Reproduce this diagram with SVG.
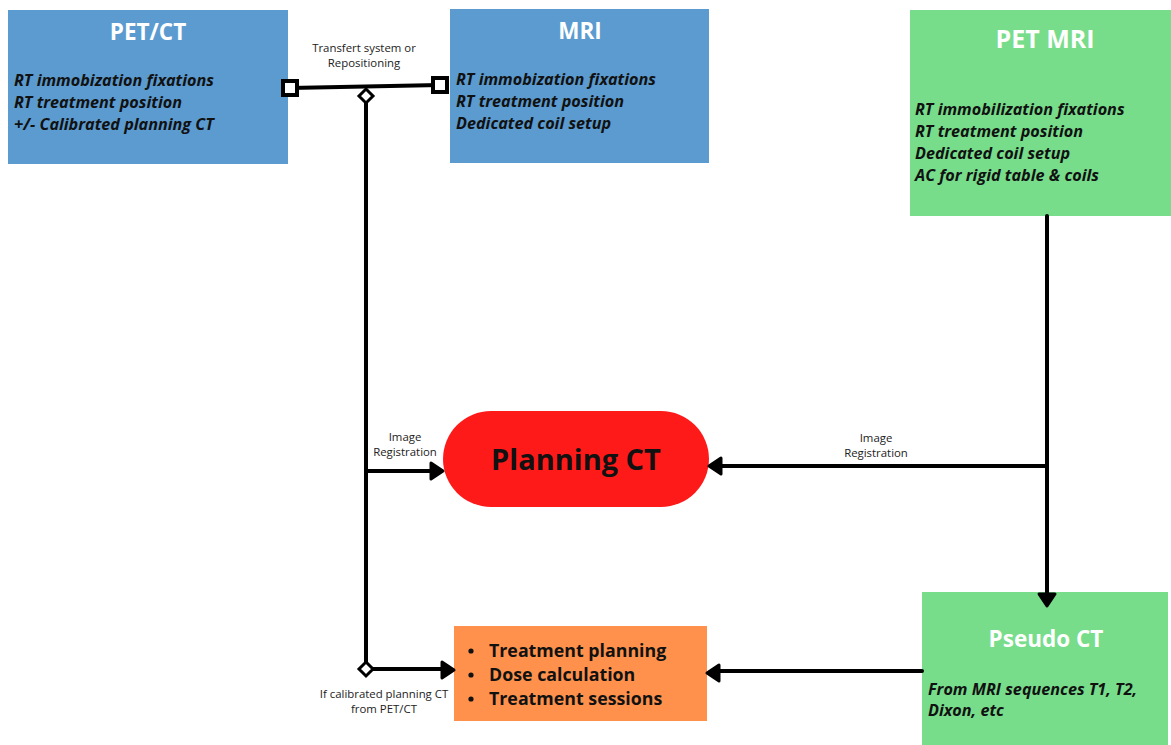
<svg xmlns="http://www.w3.org/2000/svg" width="1171" height="745" viewBox="0 0 1171 745">
<style>
.t{font-family:"Open Sans","Liberation Sans",sans-serif;}
.title{font-weight:700;fill:#fff;text-anchor:middle;}
.bi{font-weight:700;font-style:italic;fill:#111;font-size:16.2px;}
.lbl{font-size:11.4px;fill:#222;text-anchor:middle;}
.ln{stroke:#000;stroke-width:4;fill:none;stroke-linecap:round;stroke-linejoin:round;}
.ah{fill:#000;stroke:#000;stroke-width:3;stroke-linejoin:round;}
.sq{fill:#fff;stroke:#000;stroke-width:4;}
.dm{fill:#fff;stroke:#000;stroke-width:3;}
</style>
<rect width="1171" height="745" fill="#fff"/>
<g id="petct">
<rect x="8" y="10" width="280" height="154" fill="#5B9BD0"/>
<text class="t title" x="148" y="40" font-size="22.5">PET/CT</text>
<text class="t bi" x="14" y="86">RT immobization fixations</text>
<text class="t bi" x="14" y="108">RT treatment position</text>
<text class="t bi" x="14" y="130">+/- Calibrated planning CT</text>
</g>
<g id="mri">
<rect x="450" y="9" width="259" height="154" fill="#5B9BD0"/>
<text class="t title" x="580" y="39" font-size="22.5">MRI</text>
<text class="t bi" x="456" y="85">RT immobization fixations</text>
<text class="t bi" x="456" y="107">RT treatment position</text>
<text class="t bi" x="456" y="129">Dedicated coil setup</text>
</g>
<g id="petmri">
<rect x="910" y="10" width="261" height="206" fill="#77DD8B"/>
<text class="t title" x="1045" y="48" font-size="25">PET MRI</text>
<text class="t bi" x="915" y="115">RT immobilization fixations</text>
<text class="t bi" x="915" y="137">RT treatment position</text>
<text class="t bi" x="915" y="159">Dedicated coil setup</text>
<text class="t bi" x="915" y="181">AC for rigid table &amp; coils</text>
</g>
<g id="planningct">
<rect x="443" y="411" width="266" height="96" rx="48" fill="#FF1A1A"/>
<text class="t" x="576" y="470" font-size="29" font-weight="700" text-anchor="middle" fill="#111">Planning CT</text>
</g>
<g id="treatment">
<rect x="454" y="626" width="253" height="95" fill="#FF914D"/>
<circle cx="471" cy="651" r="2.6" fill="#111"/>
<circle cx="471" cy="675" r="2.6" fill="#111"/>
<circle cx="471" cy="699" r="2.6" fill="#111"/>
<text class="t" x="489" y="657" font-size="17.8" font-weight="700" fill="#111">Treatment planning</text>
<text class="t" x="489" y="681" font-size="17.8" font-weight="700" fill="#111">Dose calculation</text>
<text class="t" x="489" y="705" font-size="17.8" font-weight="700" fill="#111">Treatment sessions</text>
</g>
<g id="pseudoct">
<rect x="922" y="592" width="246" height="153" fill="#77DD8B"/>
<text class="t title" x="1046" y="647" font-size="22.5">Pseudo CT</text>
<text class="t bi" x="928" y="695">From MRI sequences T1, T2,</text>
<text class="t bi" x="928" y="716">Dixon, etc</text>
</g>
<g id="connectors">
<path class="ln" d="M290 88 L440 85"/>
<path class="ln" d="M366 96 V669"/>
<path class="ln" d="M366 471 H432"/>
<polygon class="ah" points="443,471 431,463 431,479"/>
<path class="ln" d="M366 669 H443"/>
<polygon class="ah" points="454,670 442,662 442,678"/>
<path class="ln" d="M1047 216 V594"/>
<polygon class="ah" points="1047,606 1039,594 1055,594"/>
<path class="ln" d="M1047 466 H720"/>
<polygon class="ah" points="709,466 721,458 721,474"/>
<path class="ln" d="M922 671 H718"/>
<polygon class="ah" points="707,673 719,665 719,681"/>
<rect class="sq" x="283" y="81" width="14" height="14"/>
<rect class="sq" x="433" y="78" width="14" height="14"/>
<polygon class="dm" points="366,89 373,96 366,103 359,96"/>
<polygon class="dm" points="366,662 373,669 366,676 359,669"/>
<text class="t lbl" x="364" y="52">Transfert system or</text>
<text class="t lbl" x="364" y="67">Repositioning</text>
<text class="t lbl" x="405" y="441">Image</text>
<text class="t lbl" x="405" y="456">Registration</text>
<text class="t lbl" x="876" y="442">Image</text>
<text class="t lbl" x="876" y="457">Registration</text>
<text class="t lbl" x="384" y="698">If calibrated planning CT</text>
<text class="t lbl" x="384" y="713">from PET/CT</text>
</g>
</svg>
